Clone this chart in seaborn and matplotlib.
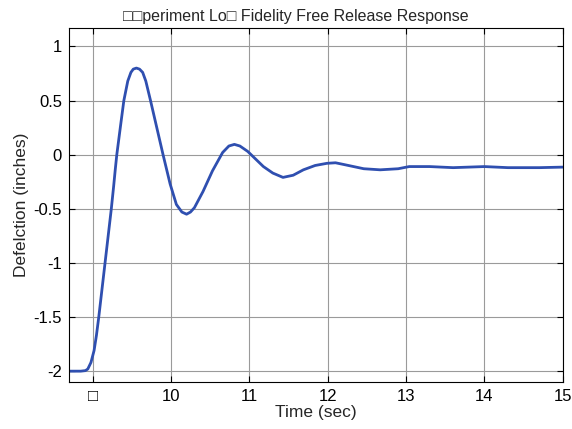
import matplotlib
matplotlib.use("Agg")
import matplotlib.pyplot as plt
import seaborn as sns
import pandas as pd

time_sec = [8.70, 8.85, 8.91, 8.94, 8.98, 9.02, 9.05, 9.08, 9.12, 9.16, 9.20, 9.24,
            9.27, 9.29, 9.31, 9.36, 9.40, 9.45, 9.49, 9.52, 9.56, 9.60, 9.64, 9.68,
            9.74, 9.82, 9.90, 9.99, 10.07, 10.14, 10.20, 10.25, 10.30, 10.41, 10.53,
            10.66, 10.74, 10.81, 10.88, 10.98, 11.08, 11.18, 11.30, 11.43, 11.56,
            11.69, 11.84, 11.99, 12.10, 12.20, 12.33, 12.46, 12.67, 12.90, 13.04,
            13.30, 13.60, 14.00, 14.30, 14.70, 15.00]
deflection = [-2.00, -2.00, -1.995, -1.98, -1.92, -1.81, -1.67, -1.50, -1.25, -1.00,
              -0.75, -0.50, -0.29, -0.14, 0.00, 0.28, 0.50, 0.68, 0.76, 0.79, 0.80,
              0.79, 0.76, 0.68, 0.50, 0.25, 0.00, -0.27, -0.46, -0.53, -0.55, -0.53,
              -0.49, -0.34, -0.15, 0.02, 0.08, 0.095, 0.08, 0.03, -0.04, -0.11, -0.17,
              -0.21, -0.19, -0.14, -0.10, -0.08, -0.075, -0.09, -0.11, -0.13, -0.14,
              -0.13, -0.11, -0.11, -0.12, -0.11, -0.12, -0.12, -0.115]

x_ticks = [9, 10, 11, 12, 13, 14, 15]
x_tick_labels = ["\u25a1", "10", "11", "12", "13", "14", "15"]
y_ticks = [-2, -1.5, -1, -0.5, 0, 0.5, 1]
y_tick_labels = ["-2", "-1.5", "-1", "-0.5", "0", "0.5", "1"]

title = "\u25a1\u25a1periment Lo\u25a1 Fidelity Free Release Response"
x_label = "Time (sec)"
y_label = "Defelction (inches)"

df = pd.DataFrame({"t": time_sec, "d": deflection})

sns.set_style("white")
plt.rcParams["font.family"] = ["Liberation Sans", "DejaVu Sans"]

fig = plt.figure(figsize=(5.72, 4.29), dpi=100)
ax = fig.add_axes([0.1206, 0.1096, 0.8634, 0.8251])

sns.lineplot(data=df, x="t", y="d", ax=ax, color="#2f4fb0", linewidth=2.0, sort=False)

ax.set_xlim(8.7, 15.0)
ax.set_ylim(-2.1, 1.17)
ax.set_xticks(x_ticks)
ax.set_xticklabels(x_tick_labels)
ax.set_yticks(y_ticks)
ax.set_yticklabels(y_tick_labels)
ax.grid(True, color="#9a9a9a", linewidth=0.8, linestyle="-")
ax.tick_params(direction="in", length=4, width=0.8, labelsize=12, colors="black",
               top=True, right=True, bottom=True, left=True, pad=5)
for s in ax.spines.values():
    s.set_color("black")
    s.set_linewidth(0.8)
ax.set_xlabel(x_label, fontsize=12.5, labelpad=1)
ax.set_ylabel(y_label, fontsize=12.5, labelpad=3)
ax.set_title(title, fontsize=11.5, pad=5, x=0.46)

fig.savefig("out.png", dpi=100)
